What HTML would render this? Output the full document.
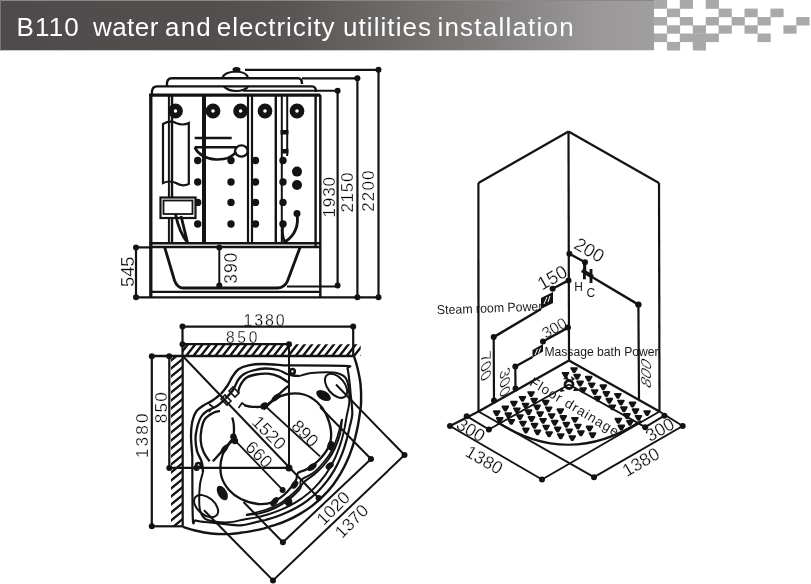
<!DOCTYPE html>
<html><head><meta charset="utf-8"><style>
html,body{margin:0;padding:0;background:#fff;}
body{width:811px;height:584px;overflow:hidden;position:relative;}
svg{position:absolute;left:0;top:0;will-change:transform;}
.d line,.d path,.d rect,.d circle,.d ellipse{stroke:#141212;fill:none;}
.d .f{fill:#141212;stroke:none;}
.d text{font-family:"Liberation Sans",sans-serif;fill:#000;stroke:#fff;stroke-width:0.3px;}
.d text.s{stroke:none;fill:#1a1a1a;}
</style></head><body>
<svg width="811" height="584" viewBox="0 0 811 584">
<defs><linearGradient id="hg" x1="0" x2="1" y1="0" y2="0">
<stop offset="0" stop-color="#4e494a"/><stop offset="0.153" stop-color="#524d4d"/><stop offset="0.32" stop-color="#534e4e"/><stop offset="0.459" stop-color="#5a5655"/><stop offset="0.581" stop-color="#6a6866"/><stop offset="0.688" stop-color="#787573"/><stop offset="0.795" stop-color="#878585"/><stop offset="0.917" stop-color="#9a9898"/><stop offset="1" stop-color="#a09e9e"/></linearGradient></defs>
<rect x="0" y="0" width="654" height="50.3" fill="url(#hg)"/>
<rect x="0" y="0" width="654" height="1" fill="#8a8787"/><rect x="0" y="0" width="1" height="50.3" fill="#7a7677"/>
<g fill="#a9a9a9"><rect x="653.9" y="0" width="13.2" height="8.8"/><rect x="679.8" y="0" width="13.2" height="8.8"/><rect x="705.7" y="0" width="13.2" height="8.8"/><rect x="666.9" y="8.6" width="13.2" height="8.6"/><rect x="718.6" y="8.6" width="13.2" height="8.6"/><rect x="744.5" y="8.6" width="13.2" height="8.6"/><rect x="770.4" y="8.6" width="13.2" height="8.6"/><rect x="653.9" y="17" width="13.2" height="8.5"/><rect x="679.8" y="17" width="13.2" height="8.5"/><rect x="705.7" y="17" width="13.2" height="8.5"/><rect x="731.6" y="17" width="13.2" height="8.5"/><rect x="757.5" y="17" width="13.2" height="8.5"/><rect x="796.3" y="17" width="13.2" height="8.5"/><rect x="666.9" y="25.3" width="13.2" height="8.4"/><rect x="692.8" y="25.3" width="13.2" height="8.4"/><rect x="718.6" y="25.3" width="13.2" height="8.4"/><rect x="744.5" y="25.3" width="13.2" height="8.4"/><rect x="783.4" y="25.3" width="13.2" height="8.4"/><rect x="653.9" y="33.5" width="13.2" height="8.6"/><rect x="679.8" y="33.5" width="13.2" height="8.6"/><rect x="692.8" y="33.5" width="13.2" height="8.6"/><rect x="705.7" y="33.5" width="13.2" height="8.6"/><rect x="757.5" y="33.5" width="13.2" height="8.6"/><rect x="666.9" y="41.9" width="13.2" height="8.6"/><rect x="692.8" y="41.9" width="13.2" height="8.6"/></g>
<text x="16.5" y="36.2" font-size="26" fill="#fff" textLength="62.26" lengthAdjust="spacing" style="font-family:'Liberation Sans',sans-serif">B110</text><text x="93.0" y="36.2" font-size="26" fill="#fff" textLength="65.33" lengthAdjust="spacing" style="font-family:'Liberation Sans',sans-serif">water</text><text x="165.0" y="36.2" font-size="26" fill="#fff" textLength="45.79" lengthAdjust="spacing" style="font-family:'Liberation Sans',sans-serif">and</text><text x="216.8" y="36.2" font-size="26" fill="#fff" textLength="117.82" lengthAdjust="spacing" style="font-family:'Liberation Sans',sans-serif">electricity</text><text x="343.0" y="36.2" font-size="26" fill="#fff" textLength="88.03" lengthAdjust="spacing" style="font-family:'Liberation Sans',sans-serif">utilities</text><text x="437.4" y="36.2" font-size="26" fill="#fff" textLength="136.28" lengthAdjust="spacing" style="font-family:'Liberation Sans',sans-serif">installation</text>
<g class="d" stroke-linecap="butt">
<text class="s" x="0" y="0" font-size="12" transform="matrix(1.0,0.0,-0.0,1.0,586.45,297.45)">C</text>
<text class="s" x="0" y="0" font-size="12" transform="matrix(1.0,0.0,-0.0,1.0,574.35,291.4)">H</text>
<text class="s" x="0" y="0" font-size="12.5" transform="matrix(1.0,0.0,-0.0,1.0,544.4,355.65)" textLength="114.2" lengthAdjust="spacingAndGlyphs">Massage bath Power</text>
<text class="s" x="0" y="0" font-size="13" transform="matrix(0.9994,-0.0349,0.0349,0.9994,437.05,314.3)" textLength="105.58" lengthAdjust="spacingAndGlyphs">Steam room Power</text>
<text class="t" x="0" y="0" font-size="16.5" transform="matrix(0,-1,0.866,0.5,651.45,389.55)">800</text>
<text class="t" x="0" y="0" font-size="16.5" transform="matrix(0,1,-0.866,0.5,499.9,371.4)">300</text>
<text class="t" x="0" y="0" font-size="16.5" transform="matrix(0,1,-0.866,0.5,481.05,355.4)">700</text>
<text class="t" x="0" y="0" font-size="15.6" transform="matrix(0.866,-0.5,0.5,0.866,545.65,339.05)">300</text>
<text class="t" x="0" y="0" font-size="18.5" transform="matrix(0.866,0.5,-0.5,0.866,572.85,247.8)">200</text>
<text class="t" x="0" y="0" font-size="18.5" transform="matrix(0.866,-0.5,0.5,0.866,542.1,290.85)">150</text>
<text class="t" x="0" y="0" font-size="17.8" transform="matrix(0.866,-0.5,0.5,0.866,626.7,477.15)">1380</text>
<text class="t" x="0" y="0" font-size="17.8" transform="matrix(0.866,-0.5,0.5,0.866,650.1,442.3)">300</text>
<text class="t" x="0" y="0" font-size="17.8" transform="matrix(0.866,0.5,-0.5,0.866,464.05,455.25)">1380</text>
<text class="t" x="0" y="0" font-size="17.8" transform="matrix(0.866,0.5,-0.5,0.866,454.95,427.8)">300</text>
<text class="t" x="0" y="0" font-size="17.5" transform="matrix(0.7071,-0.7071,0.7071,0.7071,342.1,539.25)">1370</text>
<text class="t" x="0" y="0" font-size="17.5" transform="matrix(0.7071,-0.7071,0.7071,0.7071,323.65,526.15)">1020</text>
<text class="t" x="0" y="0" font-size="17.8" transform="matrix(0.7071,0.7071,-0.7071,0.7071,290.3,427.15)">890</text>
<text class="t" x="0" y="0" font-size="17.8" transform="matrix(0.7071,0.7071,-0.7071,0.7071,244.25,448.35)">660</text>
<text class="t" x="0" y="0" font-size="17.8" transform="matrix(0.7071,0.7071,-0.7071,0.7071,250.85,423.05)">1520</text>
<text class="t" x="0" y="0" font-size="17.23" transform="matrix(0.0,-1.0,1.0,0.0,148.35,458.1)" textLength="44.66" lengthAdjust="spacing">1380</text>
<text class="t" x="0" y="0" font-size="17.23" transform="matrix(0.0,-1.0,1.0,0.0,166.85,423.25)" textLength="31.18" lengthAdjust="spacing">850</text>
<text class="t" x="0" y="0" font-size="15.6" transform="matrix(1.0,0.0,-0.0,1.0,225.9,342.75)" textLength="31.63" lengthAdjust="spacing">850</text>
<text class="t" x="0" y="0" font-size="16.01" transform="matrix(1.0,0.0,-0.0,1.0,243.6,325.8)" textLength="40.99" lengthAdjust="spacing">1380</text>
<text class="t" x="0" y="0" font-size="17.5" transform="matrix(0.0,-1.0,1.0,0.0,236.9,283.7)" textLength="30.93" lengthAdjust="spacing">390</text>
<text class="t" x="0" y="0" font-size="18.52" transform="matrix(0.0,-1.0,1.0,0.0,134.25,286.9)" textLength="30.48" lengthAdjust="spacing">545</text>
<text class="t" x="0" y="0" font-size="16.98" transform="matrix(0.0,-1.0,1.0,0.0,373.9,211.85)" textLength="41.42" lengthAdjust="spacing">2200</text>
<text class="t" x="0" y="0" font-size="16.98" transform="matrix(0.0,-1.0,1.0,0.0,352.7,212.55)" textLength="39.95" lengthAdjust="spacing">2150</text>
<text class="t" x="0" y="0" font-size="16.98" transform="matrix(0.0,-1.0,1.0,0.0,335.3,217.5)" textLength="40.55" lengthAdjust="spacing">1930</text>
<line x1="245" y1="69.8" x2="378.5" y2="69.8" stroke-width="2.20"/>
<circle cx="378.5" cy="69.8" r="3" class="f"/>
<line x1="378.5" y1="69.8" x2="378.5" y2="297.3" stroke-width="2.20"/>
<circle cx="378.5" cy="297.3" r="3" class="f"/>
<line x1="302" y1="78.3" x2="357.4" y2="78.3" stroke-width="2.20"/>
<circle cx="357.4" cy="78.3" r="3" class="f"/>
<line x1="357.4" y1="78.3" x2="357.4" y2="297.3" stroke-width="2.20"/>
<circle cx="357.4" cy="297.3" r="3" class="f"/>
<line x1="243" y1="90.8" x2="337.6" y2="90.8" stroke-width="1.98"/>
<circle cx="337.6" cy="90.8" r="3" class="f"/>
<line x1="337.6" y1="90.8" x2="337.6" y2="285.5" stroke-width="2.20"/>
<circle cx="337.6" cy="285.5" r="3" class="f"/>
<line x1="136" y1="247.4" x2="136" y2="297.3" stroke-width="2.20"/>
<circle cx="136" cy="247.4" r="3" class="f"/>
<circle cx="136" cy="297.3" r="3" class="f"/>
<line x1="136" y1="247.4" x2="150" y2="247.4" stroke-width="2.20"/>
<line x1="136" y1="297.3" x2="378.5" y2="297.3" stroke-width="2.20"/>
<line x1="219.3" y1="247.4" x2="219.3" y2="285.5" stroke-width="1.98"/>
<circle cx="219.3" cy="247.4" r="3" class="f"/>
<circle cx="219.3" cy="285.5" r="3" class="f"/>
<line x1="287" y1="286.5" x2="337.6" y2="286.5" stroke-width="1.98"/>
<path d="M167,86 Q166,78.3 172,78.3 L298,78.3 Q302,78.3 302,84" stroke-width="2.42" />
<path d="M152,95 Q151,86.4 157,86.4 L312,86.4 Q316,86.4 316,92" stroke-width="2.42" />
<path d="M222.3,78 Q224,72 236,71.5 Q247,72 248,78" stroke-width="2.20" />
<ellipse cx="236.5" cy="69.6" rx="4" ry="2.5" class="f"/>
<path d="M224,86.5 Q228,91 236,91 Q244,91 248,87" stroke-width="2.20" />
<line x1="149" y1="95.2" x2="320.5" y2="95.2" stroke-width="3.30"/>
<line x1="150.8" y1="95" x2="150.8" y2="297.3" stroke-width="3.30"/>
<line x1="320.3" y1="95" x2="320.3" y2="297.3" stroke-width="2.42"/>
<line x1="315.6" y1="95" x2="315.6" y2="246.8" stroke-width="2.42"/>
<line x1="168.9" y1="95" x2="168.9" y2="243" stroke-width="1.98"/>
<line x1="172" y1="95" x2="172" y2="243" stroke-width="2.42"/>
<line x1="204" y1="95" x2="204" y2="243" stroke-width="3.96"/>
<line x1="248" y1="95" x2="248" y2="243" stroke-width="2.20"/>
<line x1="252" y1="95" x2="252" y2="243" stroke-width="2.20"/>
<line x1="275.8" y1="95" x2="275.8" y2="243" stroke-width="2.42"/>
<line x1="281.8" y1="95" x2="281.8" y2="243" stroke-width="1.98"/>
<line x1="287.2" y1="95" x2="287.2" y2="156" stroke-width="1.98"/>
<rect x="280.5" y="130" width="8" height="4.5" class="f"/>
<rect x="281" y="149" width="7.5" height="4.5" class="f"/>
<line x1="149.6" y1="243.2" x2="320.3" y2="243.2" stroke-width="2.42"/>
<line x1="149.6" y1="247" x2="320.3" y2="247" stroke-width="2.42"/>
<line x1="150.8" y1="291.9" x2="320.3" y2="291.9" stroke-width="2.42"/>
<path d="M164.7,247.4 L174.5,280.5 Q177.5,288 183,288 L277,288 Q284.5,288 287.5,281 L300,247.4" stroke-width="2.86" />
<circle cx="175.5" cy="111" r="4.6" stroke-width="5.6"/>
<circle cx="213" cy="111" r="4.6" stroke-width="5.6"/>
<circle cx="240.6" cy="111" r="4.6" stroke-width="5.6"/>
<circle cx="265" cy="111" r="4.6" stroke-width="5.6"/>
<circle cx="297" cy="111" r="4.6" stroke-width="5.6"/>
<path d="M163,183 L163,124 Q170,120 176,123 Q183,126 188.8,123 L188.8,184 Q182,187 176,183 Q170,180 163,183Z" stroke-width="2.20" />
<line x1="194.7" y1="138" x2="231.7" y2="138" stroke-width="2.64"/>
<line x1="194.7" y1="147.3" x2="236" y2="147.3" stroke-width="2.64"/>
<path d="M194.7,147.3 Q200,158 216,159.5 Q230,160 236,152" stroke-width="2.64" />
<ellipse cx="241.4" cy="151" rx="6.4" ry="5.6" stroke-width="2.4"/>
<circle cx="197.7" cy="160.5" r="3.7" class="f"/>
<circle cx="197.7" cy="182" r="3.7" class="f"/>
<circle cx="197.7" cy="202.4" r="3.7" class="f"/>
<circle cx="197.7" cy="224" r="3.7" class="f"/>
<circle cx="231" cy="160.5" r="3.7" class="f"/>
<circle cx="231" cy="182" r="3.7" class="f"/>
<circle cx="231" cy="202.4" r="3.7" class="f"/>
<circle cx="231" cy="224" r="3.7" class="f"/>
<circle cx="255.5" cy="160.5" r="3.7" class="f"/>
<circle cx="255.5" cy="182" r="3.7" class="f"/>
<circle cx="255.5" cy="202.4" r="3.7" class="f"/>
<circle cx="255.5" cy="224" r="3.7" class="f"/>
<circle cx="283" cy="160.5" r="3.7" class="f"/>
<circle cx="283" cy="182" r="3.7" class="f"/>
<circle cx="283" cy="202.4" r="3.7" class="f"/>
<circle cx="283" cy="224" r="3.7" class="f"/>
<circle cx="297" cy="171.6" r="5" class="f"/>
<circle cx="297" cy="185" r="5" class="f"/>
<rect x="160.5" y="197.5" width="35" height="20.5" stroke-width="2.2" style="fill:#fff"/>
<rect x="163.5" y="200.5" width="29" height="13.5" stroke-width="1.8"/>
<path d="M175.5,214 Q179,232 187.5,242.5 Q184,228 181,216" stroke-width="2.86" />
<path d="M297,213.5 Q300,232 285,242 Q281,236 283,224" stroke-width="2.86" />
<circle cx="297" cy="213.5" r="3.5" class="f"/>
<line x1="182.5" y1="326.6" x2="353.2" y2="326.6" stroke-width="2.20"/>
<circle cx="182.5" cy="326.6" r="3" class="f"/>
<circle cx="353.2" cy="326.6" r="3" class="f"/>
<line x1="182.5" y1="326.6" x2="182.5" y2="356" stroke-width="2.20"/>
<line x1="353.2" y1="326.6" x2="353.2" y2="356" stroke-width="2.20"/>
<line x1="182.5" y1="344.2" x2="289" y2="344.2" stroke-width="2.20"/>
<circle cx="182.5" cy="344.2" r="3" class="f"/>
<circle cx="289" cy="344.2" r="3" class="f"/>
<line x1="151.8" y1="356" x2="353" y2="356" stroke-width="2.42"/>
<circle cx="151.8" cy="356.2" r="3" class="f"/>
<circle cx="169.2" cy="356.2" r="3" class="f"/>
<line x1="151.8" y1="356" x2="151.8" y2="526.3" stroke-width="2.20"/>
<circle cx="151.8" cy="526.3" r="3" class="f"/>
<line x1="151.8" y1="526.3" x2="183" y2="526.3" stroke-width="2.20"/>
<line x1="169.3" y1="356" x2="169.3" y2="467.9" stroke-width="2.20"/>
<circle cx="169.3" cy="467.9" r="3" class="f"/>
<line x1="169.3" y1="467.9" x2="289" y2="467.9" stroke-width="2.20"/>
<circle cx="196.6" cy="467.9" r="3" class="f"/>
<circle cx="289" cy="467.9" r="3.5" class="f"/>
<line x1="289" y1="344.2" x2="289" y2="467.9" stroke-width="1.98"/>
<line x1="182.7" y1="356" x2="182.7" y2="526.3" stroke-width="2.20"/>
<clipPath id="ht"><rect x="182.7" y="344.2" width="178" height="11.8"/></clipPath>
<clipPath id="hl"><rect x="171" y="356" width="11.7" height="170.3"/></clipPath>
<g clip-path="url(#ht)"><path d="M178.0,357 L189.0,343 M185.3,357 L196.3,343 M192.6,357 L203.6,343 M199.9,357 L210.9,343 M207.2,357 L218.2,343 M214.5,357 L225.5,343 M221.8,357 L232.8,343 M229.1,357 L240.1,343 M236.4,357 L247.4,343 M243.7,357 L254.7,343 M251.0,357 L262.0,343 M258.3,357 L269.3,343 M265.6,357 L276.6,343 M272.9,357 L283.9,343 M280.2,357 L291.2,343 M287.5,357 L298.5,343 M294.8,357 L305.8,343 M302.1,357 L313.1,343 M309.4,357 L320.4,343 M316.7,357 L327.7,343 M324.0,357 L335.0,343 M331.29999999999995,357 L342.29999999999995,343 M338.6,357 L349.6,343 M345.9,357 L356.9,343 M353.2,357 L364.2,343 M360.5,357 L371.5,343 M367.79999999999995,357 L378.79999999999995,343 M375.1,357 L386.1,343 M382.4,357 L393.4,343 M389.7,357 L400.7,343 " stroke-width="2.4"/></g>
<g clip-path="url(#hl)"><path d="M168,363.0 L184,350.0 M168,371.0 L184,358.0 M168,379.0 L184,366.0 M168,387.0 L184,374.0 M168,395.0 L184,382.0 M168,403.0 L184,390.0 M168,411.0 L184,398.0 M168,419.0 L184,406.0 M168,427.0 L184,414.0 M168,435.0 L184,422.0 M168,443.0 L184,430.0 M168,451.0 L184,438.0 M168,459.0 L184,446.0 M168,467.0 L184,454.0 M168,475.0 L184,462.0 M168,483.0 L184,470.0 M168,491.0 L184,478.0 M168,499.0 L184,486.0 M168,507.0 L184,494.0 M168,515.0 L184,502.0 M168,523.0 L184,510.0 M168,531.0 L184,518.0 M168,539.0 L184,526.0 M168,547.0 L184,534.0 M168,555.0 L184,542.0 M168,563.0 L184,550.0 M168,571.0 L184,558.0 M168,579.0 L184,566.0 M168,587.0 L184,574.0 M168,595.0 L184,582.0 " stroke-width="2.3"/></g>
<line x1="182.7" y1="356" x2="318.6" y2="498" stroke-width="1.98"/>
<circle cx="318.6" cy="498" r="3" class="f"/>
<line x1="371" y1="459" x2="282.9" y2="542.3" stroke-width="1.98"/>
<circle cx="371" cy="459" r="3" class="f"/>
<circle cx="282.9" cy="542.3" r="3" class="f"/>
<line x1="404.5" y1="455" x2="273" y2="580.4" stroke-width="1.98"/>
<circle cx="404.5" cy="455" r="3" class="f"/>
<circle cx="273" cy="580.4" r="3" class="f"/>
<line x1="320" y1="407" x2="371" y2="459" stroke-width="1.98"/>
<line x1="336" y1="384.5" x2="404.5" y2="455" stroke-width="1.98"/>
<line x1="204" y1="510.3" x2="273" y2="580.4" stroke-width="1.98"/>
<line x1="243.5" y1="502" x2="282.9" y2="542.3" stroke-width="1.98"/>
<line x1="266.2" y1="407" x2="320" y2="456.3" stroke-width="1.76"/>
<line x1="235.4" y1="440.8" x2="282.6" y2="489.9" stroke-width="1.76"/>
<circle cx="282.6" cy="489.9" r="3" class="f"/>
<path d="M353.9,356.0 C354.5,358.0 356.4,363.3 357.5,368.0 C358.6,372.7 359.9,378.3 360.5,384.0 C361.1,389.7 361.2,397.0 361.1,402.0 C361.0,407.0 360.3,409.8 359.8,413.8 C359.3,417.7 358.6,421.6 357.9,425.5 C357.1,429.5 356.3,433.4 355.3,437.3 C354.2,441.2 353.1,445.1 351.7,449.1 C350.4,453.0 348.9,456.9 347.1,460.8 C345.4,464.8 343.4,468.7 341.1,472.6 C338.8,476.5 336.4,480.4 333.4,484.4 C330.4,488.3 326.8,492.5 323.1,496.1 C319.5,499.8 315.3,503.4 311.4,506.4 C307.4,509.4 303.5,511.8 299.6,514.1 C295.7,516.4 291.8,518.4 287.8,520.1 C283.9,521.9 280.0,523.4 276.1,524.7 C272.1,526.1 268.2,527.2 264.3,528.3 C260.4,529.3 256.5,530.1 252.5,530.9 C248.6,531.6 244.7,532.3 240.8,532.8 C236.8,533.3 234.0,534.0 229.0,534.1 C224.0,534.2 216.7,534.1 211.0,533.5 C205.3,532.9 199.7,531.6 195.0,530.5 C190.3,529.4 185.0,527.5 183.0,526.9" stroke-width="2.42" />
<path d="M283.0,365.3 C293.3,365.4 334.2,365.3 345.0,365.8 C355.8,366.3 346.8,366.5 347.5,368.5 C348.2,370.5 348.5,373.8 349.0,378.0 C349.5,382.2 350.1,388.0 350.6,394.0 C351.2,400.0 352.5,408.3 352.3,414.0 C352.1,419.7 350.2,423.9 349.4,428.0 C348.5,432.1 347.9,435.0 347.0,438.5 C346.0,442.0 345.0,445.6 343.8,449.1 C342.6,452.6 341.2,456.1 339.6,459.6 C338.1,463.1 336.3,466.6 334.3,470.1 C332.2,473.6 330.0,477.1 327.3,480.7 C324.6,484.2 321.5,487.9 318.2,491.2 C314.9,494.5 311.2,497.6 307.7,500.3 C304.1,503.0 300.6,505.2 297.1,507.3 C293.6,509.3 290.1,511.1 286.6,512.6 C283.1,514.2 279.6,515.6 276.1,516.8 C272.6,518.0 269.0,519.0 265.5,520.0 C262.0,520.9 259.1,521.5 255.0,522.4 C250.9,523.2 246.7,525.1 241.0,525.3 C235.3,525.5 227.0,524.1 221.0,523.6 C215.0,523.1 209.2,522.5 205.0,522.0 C200.8,521.5 197.5,521.2 195.5,520.5 C193.5,519.8 193.3,528.8 192.8,518.0 C192.3,507.2 192.4,466.3 192.3,456.0" stroke-width="2.20" />
<path d="M299.0,376.0 C301.1,375.5 306.8,373.6 311.5,373.0 C316.2,372.4 322.6,372.2 327.0,372.2 C331.4,372.2 334.6,372.3 337.7,373.2 C340.8,374.1 343.6,375.3 345.4,377.6 C347.2,379.9 347.9,382.9 348.5,387.0 C349.1,391.1 349.6,397.2 349.3,402.0 C349.0,406.8 347.5,411.7 346.7,416.0 C345.9,420.3 345.4,424.0 344.6,427.9 C343.8,431.9 342.8,435.9 341.7,439.9 C340.5,443.9 339.2,447.8 337.6,451.8 C336.1,455.8 334.3,459.8 332.2,463.8 C330.0,467.7 327.7,471.7 324.8,475.7 C321.8,479.7 318.3,484.0 314.6,487.6 C311.0,491.3 306.7,494.8 302.7,497.8 C298.7,500.7 294.7,503.0 290.8,505.2 C286.8,507.3 282.8,509.1 278.8,510.6 C274.8,512.2 270.9,513.5 266.9,514.7 C262.9,515.8 258.9,516.8 254.9,517.6 C251.0,518.4 247.3,518.9 243.0,519.7 C238.7,520.5 233.8,522.0 229.0,522.3 C224.2,522.6 218.1,522.1 214.0,521.5 C209.9,520.9 206.9,520.2 204.6,518.4 C202.3,516.6 201.1,513.8 200.2,510.7 C199.3,507.6 199.2,504.4 199.2,500.0 C199.2,495.6 199.4,489.2 200.0,484.5 C200.6,479.8 202.5,474.1 203.0,472.0" stroke-width="1.98" />
<path d="M221.0,394.0 C222.1,392.6 225.6,388.4 227.5,385.5 C229.4,382.6 230.7,379.2 232.5,376.5 C234.3,373.8 235.8,371.1 238.5,369.2 C241.2,367.3 244.4,366.2 248.5,365.3 C252.6,364.4 257.2,364.0 263.0,364.0 C268.8,364.0 279.7,365.1 283.0,365.3" stroke-width="2.31" />
<path d="M221.0,394.0 C219.6,395.1 215.4,398.6 212.5,400.5 C209.6,402.4 206.2,403.7 203.5,405.5 C200.8,407.3 198.1,408.8 196.2,411.5 C194.3,414.2 193.2,417.4 192.3,421.5 C191.4,425.6 191.0,430.2 191.0,436.0 C191.0,441.8 192.1,452.7 192.3,456.0" stroke-width="2.31" />
<path d="M225.5,398.5 C226.8,397.1 230.9,393.1 233.0,390.0 C235.1,386.9 236.2,382.7 238.0,380.0 C239.8,377.3 241.5,375.6 244.0,374.0 C246.5,372.4 249.5,371.4 253.0,370.5 C256.5,369.6 260.8,368.6 265.0,368.5 C269.2,368.4 274.3,369.1 278.0,370.0 C281.7,370.9 284.5,373.1 287.0,374.0 C289.5,374.9 291.0,375.2 293.0,375.5 C295.0,375.8 298.0,375.9 299.0,376.0" stroke-width="2.31" />
<path d="M225.5,398.5 C224.1,399.8 220.1,403.9 217.0,406.0 C213.9,408.1 209.7,409.2 207.0,411.0 C204.3,412.8 202.6,414.5 201.0,417.0 C199.4,419.5 198.4,422.5 197.5,426.0 C196.6,429.5 195.6,433.8 195.5,438.0 C195.4,442.2 196.1,447.3 197.0,451.0 C197.9,454.7 200.1,457.5 201.0,460.0 C201.9,462.5 202.2,464.0 202.5,466.0 C202.8,468.0 202.9,471.0 203.0,472.0" stroke-width="2.31" />
<path d="M238.0,393.0 C238.3,391.8 238.7,388.5 240.0,386.0 C241.3,383.5 243.3,379.9 246.0,378.0 C248.7,376.1 252.3,375.2 256.0,374.5 C259.7,373.8 264.2,373.3 268.0,373.7 C271.8,374.1 275.6,375.1 279.0,376.6 C282.4,378.1 286.8,381.5 288.3,382.5" stroke-width="2.31" />
<path d="M220.0,411.0 C218.8,411.3 215.5,411.7 213.0,413.0 C210.5,414.3 206.9,416.3 205.0,419.0 C203.1,421.7 202.2,425.3 201.5,429.0 C200.8,432.7 200.3,437.2 200.7,441.0 C201.0,444.8 202.1,448.6 203.6,452.0 C205.1,455.4 208.5,459.8 209.5,461.3" stroke-width="2.31" />
<path d="M244.6,405.3 C245.9,405.6 249.0,406.7 252.3,406.8 C255.7,406.9 260.8,407.6 264.7,406.0 C268.6,404.4 272.1,400.4 276.0,397.0 C279.9,393.6 286.2,387.7 288.3,385.8" stroke-width="2.31" />
<path d="M232.3,417.6 C232.6,418.9 233.7,422.0 233.8,425.3 C233.9,428.6 234.6,433.8 233.0,437.7 C231.4,441.6 227.4,445.1 224.0,449.0 C220.6,452.9 214.7,459.2 212.8,461.3" stroke-width="2.31" />
<path d="M263.6,409.4 C265.5,407.7 270.9,401.6 275.0,399.0 C279.1,396.4 283.2,394.8 288.0,394.0 C292.8,393.2 299.0,393.2 303.8,394.5 C308.6,395.8 313.3,398.8 317.0,402.0 C320.7,405.2 323.7,409.2 326.0,414.0 C328.3,418.8 330.5,425.7 331.0,431.0 C331.5,436.3 331.0,441.2 329.0,446.0 C327.0,450.8 322.7,456.2 319.0,460.0 C315.3,463.8 310.5,466.8 307.0,469.0 C303.5,471.2 299.8,471.2 298.0,473.0 C296.2,474.8 297.8,476.8 296.0,480.0 C294.2,483.2 290.8,488.3 287.0,492.0 C283.2,495.7 277.8,500.0 273.0,502.0 C268.2,504.0 263.3,504.5 258.0,504.0 C252.7,503.5 245.8,501.3 241.0,499.0 C236.2,496.7 232.2,493.7 229.0,490.0 C225.8,486.3 222.8,481.6 221.5,476.8 C220.2,472.0 220.2,465.8 221.0,461.0 C221.8,456.2 223.4,452.1 226.0,448.0 C228.6,443.9 234.7,438.5 236.4,436.6" stroke-width="2.31" />
<path d="M342.0,419.0 C341.7,421.5 341.2,429.2 340.0,434.0 C338.8,438.8 337.0,443.7 335.0,448.0 C333.0,452.3 331.0,456.0 328.0,460.0 C325.0,464.0 321.2,468.2 317.0,472.0 C312.8,475.8 306.0,480.0 303.0,483.0 C300.0,486.0 301.7,487.0 299.0,490.0 C296.3,493.0 291.0,498.0 287.0,501.0 C283.0,504.0 279.3,506.0 275.0,508.0 C270.7,510.0 265.8,511.8 261.0,513.0 C256.2,514.2 248.5,514.7 246.0,515.0" stroke-width="1.98" />
<path d="M342.0,419.0 C341.2,422.2 338.8,432.5 337.0,438.0 C335.2,443.5 333.3,447.8 331.0,452.0 C328.7,456.2 326.0,459.5 323.0,463.0 C320.0,466.5 316.7,470.2 313.0,473.0 C309.3,475.8 303.2,477.8 301.0,480.0 C298.8,482.2 301.8,483.3 300.0,486.0 C298.2,488.7 293.5,493.0 290.0,496.0 C286.5,499.0 283.2,501.7 279.0,504.0 C274.8,506.3 270.5,508.2 265.0,510.0 C259.5,511.8 249.2,514.2 246.0,515.0" stroke-width="1.76" />
<path d="M229,391 L233,387 L239,393 L235,397Z M221,399 L225,395 L231,401 L227,405Z" stroke-width="1.6"/>
<path d="M238.5,408 L242,403 L246,406 M209,412 L213,407 L209,404" stroke-width="1.6"/>
<circle cx="292.4" cy="371.4" r="2.4" stroke-width="2.6"/>
<circle cx="198.4" cy="465.4" r="2.4" stroke-width="2.6"/>
<circle cx="263.6" cy="406.4" r="3.2" class="f"/>
<circle cx="233.4" cy="436.6" r="3.2" class="f"/>
<circle cx="235" cy="441" r="3.2" class="f"/>
<circle cx="265" cy="405.5" r="3.2" class="f"/>
<ellipse cx="276" cy="397.5" rx="5.5" ry="2.6" transform="rotate(-40 276 397.5)" class="f"/>
<ellipse cx="224.5" cy="449" rx="5.5" ry="2.6" transform="rotate(-50 224.5 449)" class="f"/>
<ellipse cx="323.5" cy="395.5" rx="8" ry="4.5" transform="rotate(30 323.5 395.5)" class="f"/>
<ellipse cx="222.3" cy="493" rx="8" ry="4.5" transform="rotate(60 222.3 493)" class="f"/>
<ellipse cx="330.4" cy="445.2" rx="3" ry="4.5" transform="rotate(20 330.4 445.2)" class="f"/>
<ellipse cx="312" cy="467" rx="5.5" ry="3" transform="rotate(-35 312 467)" class="f"/>
<ellipse cx="329.7" cy="465.8" rx="4.5" ry="3" transform="rotate(-40 329.7 465.8)" class="f"/>
<ellipse cx="294.6" cy="484.7" rx="3" ry="4.5" transform="rotate(40 294.6 484.7)" class="f"/>
<ellipse cx="288.4" cy="501.6" rx="4" ry="5" transform="rotate(-10 288.4 501.6)" class="f"/>
<ellipse cx="274.5" cy="501.6" rx="5.5" ry="3" transform="rotate(-50 274.5 501.6)" class="f"/>
<ellipse cx="331.5" cy="446.2" rx="3" ry="4.5" transform="rotate(15 331.5 446.2)" class="f"/>
<ellipse cx="336.1" cy="385.8" rx="14" ry="8.5" transform="rotate(50 336.1 385.8)" stroke-width="2"/>
<ellipse cx="206.1" cy="506.1" rx="14" ry="8.5" transform="rotate(40 206.1 506.1)" stroke-width="2"/>
<line x1="568.5" y1="131.5" x2="478.4" y2="183" stroke-width="2.20"/>
<line x1="568.5" y1="131.5" x2="659" y2="183" stroke-width="2.20"/>
<line x1="478.4" y1="183" x2="478.5" y2="411.5" stroke-width="2.20"/>
<line x1="568.5" y1="131.5" x2="569" y2="360.5" stroke-width="2.20"/>
<line x1="659" y1="183" x2="659.5" y2="411.5" stroke-width="2.20"/>
<line x1="569" y1="360.5" x2="478.5" y2="411.5" stroke-width="2.42"/>
<line x1="569" y1="360.5" x2="659.5" y2="411.5" stroke-width="2.42"/>
<line x1="478.5" y1="411.5" x2="594" y2="477.2" stroke-width="1.98"/>
<line x1="659.5" y1="411.5" x2="542" y2="479.5" stroke-width="1.98"/>
<line x1="450" y1="426" x2="478.5" y2="411.5" stroke-width="1.98"/>
<line x1="466.7" y1="416.2" x2="488.9" y2="429.5" stroke-width="1.98"/>
<line x1="450" y1="426" x2="542" y2="479.5" stroke-width="1.98"/>
<circle cx="450" cy="426" r="3" class="f"/>
<circle cx="466.7" cy="416.2" r="3" class="f"/>
<circle cx="488.9" cy="429.5" r="3" class="f"/>
<circle cx="542" cy="479.5" r="3" class="f"/>
<line x1="659.5" y1="411.5" x2="682.7" y2="426" stroke-width="1.98"/>
<line x1="664.4" y1="415.7" x2="645.2" y2="427.2" stroke-width="1.98"/>
<line x1="682.7" y1="426" x2="594" y2="477.2" stroke-width="1.98"/>
<circle cx="664.4" cy="415.7" r="3" class="f"/>
<circle cx="682.7" cy="426" r="3" class="f"/>
<circle cx="645.2" cy="427.2" r="3" class="f"/>
<circle cx="594" cy="477.2" r="3" class="f"/>
<line x1="488.9" y1="429.5" x2="569" y2="384.5" stroke-width="1.98"/>
<line x1="569" y1="384.5" x2="645.2" y2="427.2" stroke-width="1.98"/>
<path d="M497,422 Q569,468 641,421" stroke-width="2.20" />
<path d="M493.8,411.3 L499.6,411.3 L497.3,415.3 L496.1,415.3Z M496.8,418.0 L502.6,418.0 L500.3,422.0 L499.1,422.0Z M502.4,406.5 L508.2,406.5 L505.9,410.5 L504.7,410.5Z M505.4,413.2 L511.2,413.2 L508.9,417.2 L507.7,417.2Z M508.4,419.9 L514.2,419.9 L511.9,423.9 L510.7,423.9Z M511.0,401.7 L516.8,401.7 L514.5,405.7 L513.3,405.7Z M514.0,408.4 L519.8,408.4 L517.5,412.4 L516.3,412.4Z M517.0,415.1 L522.8,415.1 L520.5,419.1 L519.3,419.1Z M520.0,421.8 L525.8,421.8 L523.5,425.8 L522.3,425.8Z M523.0,428.5 L528.8,428.5 L526.5,432.5 L525.3,432.5Z M519.6,396.9 L525.4,396.9 L523.1,400.9 L521.9,400.9Z M522.6,403.6 L528.4,403.6 L526.1,407.6 L524.9,407.6Z M525.6,410.3 L531.4,410.3 L529.1,414.3 L527.9,414.3Z M528.6,417.0 L534.4,417.0 L532.1,421.0 L530.9,421.0Z M531.6,423.7 L537.4,423.7 L535.1,427.7 L533.9,427.7Z M534.6,430.4 L540.4,430.4 L538.1,434.4 L536.9,434.4Z M528.2,392.1 L534.0,392.1 L531.7,396.1 L530.5,396.1Z M531.2,398.8 L537.0,398.8 L534.7,402.8 L533.5,402.8Z M534.2,405.5 L540.0,405.5 L537.7,409.5 L536.5,409.5Z M537.2,412.2 L543.0,412.2 L540.7,416.2 L539.5,416.2Z M540.2,418.9 L546.0,418.9 L543.7,422.9 L542.5,422.9Z M543.2,425.6 L549.0,425.6 L546.7,429.6 L545.5,429.6Z M546.2,432.3 L552.0,432.3 L549.7,436.3 L548.5,436.3Z M542.8,400.7 L548.6,400.7 L546.3,404.7 L545.1,404.7Z M545.8,407.4 L551.6,407.4 L549.3,411.4 L548.1,411.4Z M548.8,414.1 L554.6,414.1 L552.3,418.1 L551.1,418.1Z M551.8,420.8 L557.6,420.8 L555.3,424.8 L554.1,424.8Z M554.8,427.5 L560.6,427.5 L558.3,431.5 L557.1,431.5Z M557.8,434.2 L563.6,434.2 L561.3,438.2 L560.1,438.2Z M557.4,409.3 L563.2,409.3 L560.9,413.3 L559.7,413.3Z M560.4,416.0 L566.2,416.0 L563.9,420.0 L562.7,420.0Z M563.4,422.7 L569.2,422.7 L566.9,426.7 L565.7,426.7Z M566.4,429.4 L572.2,429.4 L569.9,433.4 L568.7,433.4Z M569.4,436.1 L575.2,436.1 L572.9,440.1 L571.7,440.1Z M572.0,417.9 L577.8,417.9 L575.5,421.9 L574.3,421.9Z M575.0,424.6 L580.8,424.6 L578.5,428.6 L577.3,428.6Z M578.0,431.3 L583.8,431.3 L581.5,435.3 L580.3,435.3Z M562.6,372.9 L568.4,372.9 L566.1,376.9 L564.9,376.9Z M586.6,426.5 L592.4,426.5 L590.1,430.5 L588.9,430.5Z M589.6,433.2 L595.4,433.2 L593.1,437.2 L591.9,437.2Z M571.2,368.1 L577.0,368.1 L574.7,372.1 L573.5,372.1Z M574.2,374.8 L580.0,374.8 L577.7,378.8 L576.5,378.8Z M577.2,381.5 L583.0,381.5 L580.7,385.5 L579.5,385.5Z M580.2,388.2 L586.0,388.2 L583.7,392.2 L582.5,392.2Z M585.8,376.7 L591.6,376.7 L589.3,380.7 L588.1,380.7Z M588.8,383.4 L594.6,383.4 L592.3,387.4 L591.1,387.4Z M591.8,390.1 L597.6,390.1 L595.3,394.1 L594.1,394.1Z M594.8,396.8 L600.6,396.8 L598.3,400.8 L597.1,400.8Z M600.4,385.3 L606.2,385.3 L603.9,389.3 L602.7,389.3Z M603.4,392.0 L609.2,392.0 L606.9,396.0 L605.7,396.0Z M606.4,398.7 L612.2,398.7 L609.9,402.7 L608.7,402.7Z M609.4,405.4 L615.2,405.4 L612.9,409.4 L611.7,409.4Z M615.4,418.8 L621.2,418.8 L618.9,422.8 L617.7,422.8Z M618.4,425.5 L624.2,425.5 L621.9,429.5 L620.7,429.5Z M615.0,393.9 L620.8,393.9 L618.5,397.9 L617.3,397.9Z M618.0,400.6 L623.8,400.6 L621.5,404.6 L620.3,404.6Z M621.0,407.3 L626.8,407.3 L624.5,411.3 L623.3,411.3Z M624.0,414.0 L629.8,414.0 L627.5,418.0 L626.3,418.0Z M627.0,420.7 L632.8,420.7 L630.5,424.7 L629.3,424.7Z M629.6,402.5 L635.4,402.5 L633.1,406.5 L631.9,406.5Z M632.6,409.2 L638.4,409.2 L636.1,413.2 L634.9,413.2Z M635.6,415.9 L641.4,415.9 L639.1,419.9 L637.9,419.9Z M644.2,411.1 L650.0,411.1 L647.7,415.1 L646.5,415.1Z " class="f" stroke="#141212" stroke-width="1.9" stroke-linejoin="round" style="stroke:#141212"/>
<circle cx="569" cy="384.5" r="4" stroke-width="2.8"/>
<path d="M563,379 L567,376 L569,380Z M571,376 L575,379 L572,381Z M575,387 L578,391 L573,391Z M561,388 L565,391 L560,392Z" class="f"/>
<line x1="569.4" y1="253.7" x2="585" y2="262.3" stroke-width="2.42"/>
<circle cx="569.4" cy="253.7" r="3" class="f"/>
<circle cx="585" cy="262.3" r="3" class="f"/>
<line x1="585" y1="262.3" x2="585" y2="272" stroke-width="2.42"/>
<line x1="592" y1="277" x2="638.4" y2="304.6" stroke-width="2.42"/>
<circle cx="638.4" cy="304.6" r="3.2" class="f"/>
<line x1="638.4" y1="304.6" x2="639" y2="400.5" stroke-width="2.20"/>
<line x1="568.5" y1="280.4" x2="552.6" y2="288.7" stroke-width="2.42"/>
<circle cx="568.5" cy="280.4" r="3" class="f"/>
<circle cx="552.6" cy="288.7" r="3" class="f"/>
<line x1="541" y1="309" x2="493.7" y2="337.1" stroke-width="2.42"/>
<circle cx="493.7" cy="337.1" r="3" class="f"/>
<line x1="493.7" y1="337.1" x2="494" y2="400.4" stroke-width="2.20"/>
<circle cx="494" cy="400.4" r="3" class="f"/>
<line x1="568" y1="327.6" x2="543" y2="341.5" stroke-width="2.42"/>
<circle cx="568" cy="327.6" r="3" class="f"/>
<circle cx="543" cy="341.5" r="3" class="f"/>
<line x1="532.5" y1="357" x2="515.3" y2="366.5" stroke-width="2.42"/>
<circle cx="515.3" cy="366.5" r="3" class="f"/>
<line x1="515.3" y1="366.5" x2="515.5" y2="388.4" stroke-width="2.20"/>
<circle cx="515.5" cy="388.4" r="3" class="f"/>
<path d="M541,298 L553,292 L553,303 L541,309Z" class="f"/>
<path d="M544,304 L547,297 M548,302 L550,296" stroke="#fff" style="stroke:#fff" stroke-width="1"/>
<path d="M532.5,350 L543,344 L543,351.5 L532.5,357.5Z" class="f"/>
<path d="M535,355 L537.5,349 M538.5,353.5 L540.5,348" stroke="#fff" style="stroke:#fff" stroke-width="1"/>
<line x1="584.5" y1="262.5" x2="584.4" y2="270" stroke-width="2.64"/>
<line x1="582" y1="270.4" x2="592.8" y2="277" stroke-width="3.96"/>
<line x1="584.4" y1="268.6" x2="584.4" y2="279.3" stroke-width="2.86"/>
<line x1="591" y1="269" x2="591" y2="283" stroke-width="2.86"/>
<text x="574.3" y="406.8" font-size="13.5" text-anchor="middle" class="s" transform="rotate(31 574.3 406.8)" dy="4.5" textLength="101" lengthAdjust="spacing">Floor drainage</text>
</g>
</svg>
</body></html>
